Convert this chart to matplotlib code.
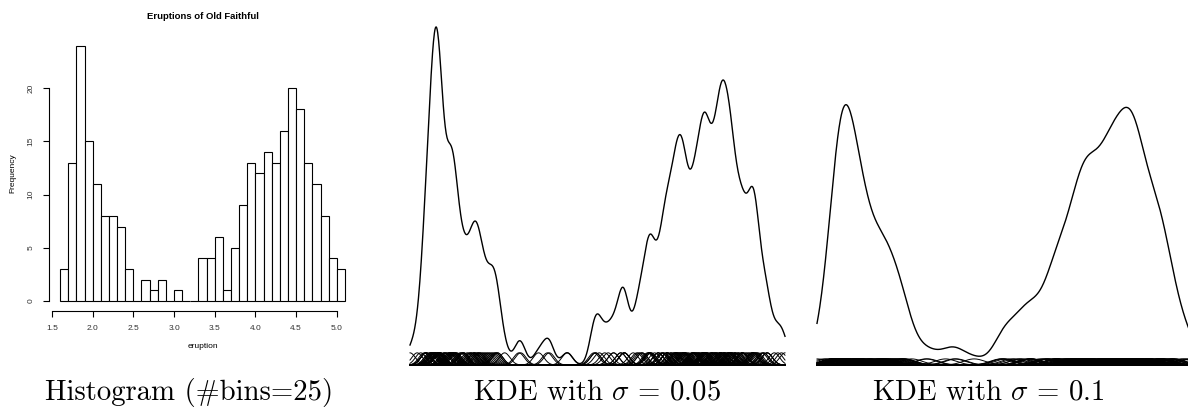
import numpy as np
import matplotlib
matplotlib.use('Agg')
import matplotlib.pyplot as plt

plt.rcParams['mathtext.fontset'] = 'cm'

# Old Faithful eruption durations (minutes)
eruptions = [
    3.600, 1.800, 3.333, 2.283, 4.533, 2.883, 4.700, 3.600, 1.950, 4.350,
    1.833, 3.917, 4.200, 1.750, 4.700, 2.167, 1.750, 4.800, 1.600, 4.250,
    1.800, 1.750, 3.450, 3.067, 4.533, 3.600, 1.967, 4.083, 3.850, 4.433,
    4.300, 4.467, 3.367, 4.033, 3.833, 2.017, 1.867, 4.833, 1.833, 4.783,
    4.350, 1.883, 4.567, 1.750, 4.533, 3.317, 3.833, 2.100, 4.633, 2.000,
    4.800, 4.716, 1.833, 4.833, 1.733, 4.883, 3.717, 1.667, 4.567, 4.317,
    2.233, 4.500, 1.750, 4.800, 1.817, 4.400, 4.167, 4.700, 2.067, 4.700,
    4.033, 1.967, 4.500, 4.000, 1.983, 5.067, 2.017, 4.567, 3.883, 3.600,
    4.133, 4.333, 4.100, 2.633, 4.067, 4.933, 3.950, 4.517, 2.167, 4.000,
    2.200, 4.333, 1.867, 4.817, 1.833, 4.300, 4.667, 3.750, 1.867, 4.900,
    2.483, 4.367, 2.100, 4.500, 4.050, 1.867, 4.700, 1.783, 4.850, 3.683,
    4.733, 2.300, 4.900, 4.417, 1.700, 4.633, 2.317, 4.600, 1.817, 4.417,
    2.617, 4.067, 4.250, 1.967, 4.600, 3.767, 1.917, 4.500, 2.267, 4.650,
    1.867, 4.167, 2.800, 4.333, 1.833, 4.383, 1.883, 4.933, 2.033, 3.733,
    4.233, 2.233, 4.533, 4.817, 4.333, 1.983, 4.633, 2.017, 5.100, 1.800,
    5.033, 4.000, 2.400, 4.600, 3.567, 4.000, 4.500, 4.083, 1.800, 3.967,
    2.200, 4.150, 2.000, 3.833, 3.500, 4.583, 2.367, 5.000, 1.933, 4.617,
    1.917, 2.083, 4.583, 3.333, 4.167, 4.333, 4.500, 2.417, 4.000, 4.167,
    1.883, 4.583, 4.250, 3.767, 2.033, 4.433, 4.083, 1.833, 4.417, 2.183,
    4.800, 1.833, 4.800, 4.100, 3.966, 4.233, 3.500, 4.366, 2.250, 4.667,
    2.100, 4.350, 4.133, 1.867, 4.600, 1.783, 4.367, 3.850, 1.933, 4.500,
    2.383, 4.700, 1.867, 3.833, 3.417, 4.233, 2.400, 4.800, 2.000, 4.150,
    1.867, 4.267, 1.750, 4.483, 4.000, 4.117, 4.083, 4.267, 3.917, 4.550,
    4.083, 2.417, 4.183, 2.217, 4.450, 1.883, 1.850, 4.283, 3.950, 2.333,
    4.150, 2.350, 4.933, 2.900, 4.583, 3.833, 2.083, 4.367, 2.133, 4.350,
    2.200, 4.450, 3.567, 4.500, 4.150, 3.817, 3.917, 4.450, 2.000, 4.283,
    4.767, 4.533, 1.850, 4.250, 1.983, 2.250, 4.750, 4.117, 2.150, 4.417,
    1.817, 4.467,
]

# histogram
bin_edges = [1.6 + 0.1 * i for i in range(36)]
counts = [3, 13, 24, 15, 11, 8, 8, 7, 3, 0, 2, 1, 2, 0, 1, 0, 0, 4, 4, 6,
          1, 5, 9, 13, 12, 14, 13, 16, 20, 18, 13, 11, 8, 4, 3]

sigmas = [0.05, 0.1]
captions = ['Histogram (#bins=25)', r'KDE with $\sigma$ = 0.05', r'KDE with $\sigma$ = 0.1']

W, H = 1188, 413
fig = plt.figure(figsize=(W / 100, H / 100), dpi=100)


def ax_at(l, t, r, b):
    return fig.add_axes([l / W, 1 - b / H, (r - l) / W, (b - t) / H])


# --- histogram panel (R style) ---
ax = ax_at(48.7, 35.4, 356.4, 311.2)
ax.bar(bin_edges[:-1], counts, width=0.1, align='edge', color='white',
       edgecolor='black', linewidth=0.8)
ax.set_xlim(1.46, 5.24)
ax.set_ylim(-0.96, 24.96)
for s in ['top', 'right']:
    ax.spines[s].set_visible(False)
ax.spines['left'].set_bounds(0, 20)
ax.spines['bottom'].set_bounds(1.5, 5.0)
ax.spines['left'].set_linewidth(0.8)
ax.spines['bottom'].set_linewidth(0.8)
ax.set_xticks(np.arange(1.5, 5.01, 0.5))
ax.set_xticklabels(['%.1f' % v for v in np.arange(1.5, 5.01, 0.5)])
ax.set_yticks([0, 5, 10, 15, 20])
ax.tick_params(direction='out', length=4, width=0.8, labelsize=6,
               labelcolor='#333333', pad=6)
plt.setp(ax.get_yticklabels(), rotation=90, va='center')
for lab in ax.get_xticklabels() + ax.get_yticklabels():
    lab.set_family('Liberation Sans')
ax.set_xlabel('eruption', family='Liberation Sans', fontsize=6, labelpad=8)
ax.set_ylabel('Frequency', family='Liberation Sans', fontsize=6, labelpad=8)
ax.set_title('Eruptions of Old Faithful', family='Liberation Sans',
             fontsize=6.8, fontweight='bold', pad=12)

# --- KDE panels ---
data = np.array(eruptions)
n = len(data)
xs = np.linspace(data.min(), data.max(), 800)


def kernels(sig):
    return np.exp(-0.5 * ((xs[None, :] - data[:, None]) / sig) ** 2) / (n * sig * np.sqrt(2 * np.pi))


k05 = kernels(sigmas[0])
k10 = kernels(sigmas[1])
ymax = k05.sum(axis=0).max()

boxes = [(410, 27, 785, 366), (817, 27, 1192, 366)]
for box, k in zip(boxes, [k05, k10]):
    a = ax_at(*box)
    for row in k:
        a.plot(xs, row, color='black', lw=0.7, clip_on=False)
    a.plot(xs, k.sum(axis=0), color='black', lw=1.0, clip_on=False)
    a.set_xlim(xs[0], xs[-1])
    a.set_ylim(-ymax * 0.003, ymax)
    a.axis('off')

# captions
for cx, cap in zip([189, 597, 988], captions):
    fig.text(cx / W, 1 - 400 / H, cap, family='cmr10', fontsize=20.7,
             ha='center', va='baseline')

fig.savefig('out.png', dpi=100)
